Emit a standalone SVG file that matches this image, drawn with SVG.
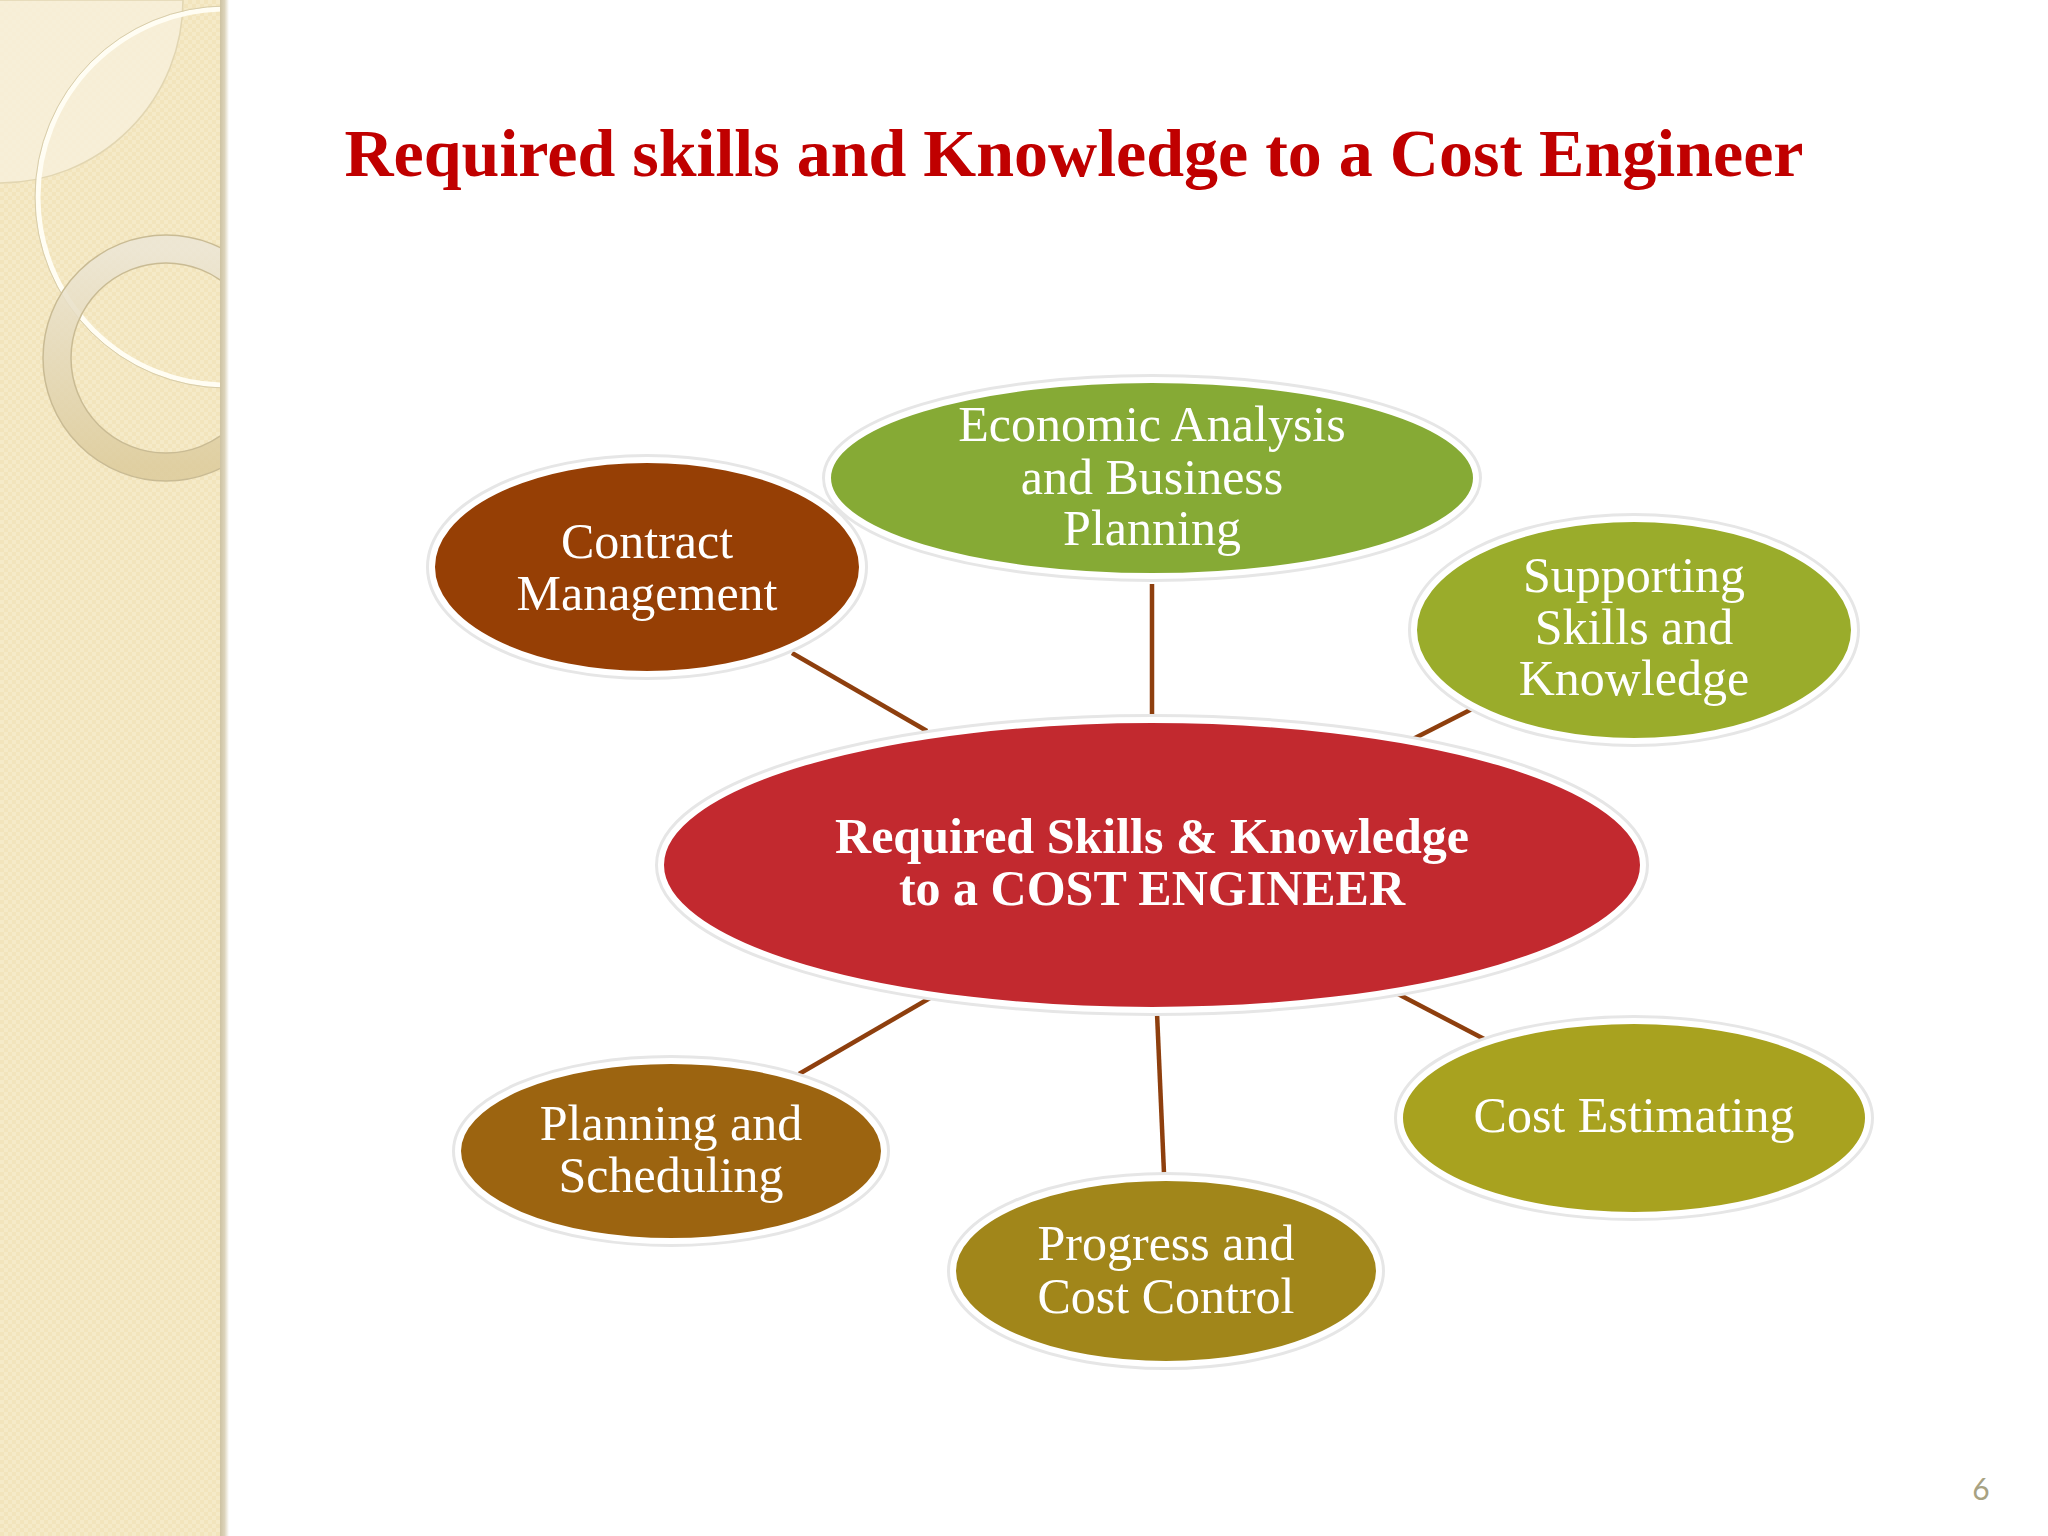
<svg xmlns="http://www.w3.org/2000/svg" width="2048" height="1536" viewBox="0 0 2048 1536">
<defs>
<pattern id="chk" width="8" height="8" patternUnits="userSpaceOnUse">
<rect width="8" height="8" fill="#F2E4BC"/>
<rect width="4" height="4" fill="#F5EAC8"/>
<rect x="4" y="4" width="4" height="4" fill="#F5EAC8"/>
</pattern>
<linearGradient id="edge" x1="0" y1="0" x2="1" y2="0">
<stop offset="0" stop-color="#CDC2A2"/>
<stop offset="0.5" stop-color="#DCD3BA"/>
<stop offset="1" stop-color="#FFFFFF"/>
</linearGradient>
<linearGradient id="ringg" x1="0" y1="0" x2="0" y2="1">
<stop offset="0" stop-color="#ECE6D6"/>
<stop offset="1" stop-color="#DCCB9C"/>
</linearGradient>
<clipPath id="stripclip"><rect x="0" y="0" width="220" height="1536"/></clipPath>
<style>
.node ellipse.halo{fill:none;stroke:#E6E6E6;stroke-width:12}
.node ellipse.body{stroke:#FFFFFF;stroke-width:6}
.lbl{font-family:"Liberation Serif","Times New Roman",serif;font-size:50px;fill:#FFFFFF;text-anchor:middle}
.bold{font-weight:bold}
.conn line{stroke:#8E3F0E;stroke-width:4.5;stroke-linecap:butt}
</style>
</defs>
<rect width="2048" height="1536" fill="#FFFFFF"/>
<g id="strip">
<rect x="0" y="0" width="220" height="1536" fill="url(#chk)"/>
<g clip-path="url(#stripclip)">
<path d="M0,0 L183,0 A183,183 0 0 1 0,183 Z" fill="#F7F0DC" opacity="0.8"/>
<path d="M0,0 L183,0 A183,183 0 0 1 0,183" fill="none" stroke="#E2D6B2" stroke-width="1.5"/>
<circle cx="226" cy="197" r="188" fill="none" stroke="#FFFDF3" stroke-width="5"/>
<circle cx="226" cy="197" r="191" fill="none" stroke="#D8CDAA" stroke-width="1"/>
<circle cx="166" cy="358" r="109" fill="none" stroke="url(#ringg)" stroke-width="28" opacity="0.85"/>
<circle cx="166" cy="358" r="123" fill="none" stroke="#C9BB94" stroke-width="1.5"/>
<circle cx="166" cy="358" r="95" fill="none" stroke="#C9BB94" stroke-width="1.5"/>
</g>
<rect x="220" y="0" width="9" height="1536" fill="url(#edge)"/>
</g>
<text id="title" x="1074" y="176" font-family="Liberation Serif, Times New Roman, serif" font-size="68" font-weight="bold" fill="#C00000" text-anchor="middle">Required skills and Knowledge to a Cost Engineer</text>
<g id="connectors" class="conn">
<line x1="792" y1="653" x2="927" y2="731"/>
<line x1="1152" y1="584" x2="1152" y2="716"/>
<line x1="1472" y1="709" x2="1413" y2="739"/>
<line x1="799" y1="1074" x2="930" y2="998"/>
<line x1="1157" y1="1013" x2="1164" y2="1173"/>
<line x1="1398" y1="994" x2="1488" y2="1041"/>
</g>
<g id="center" class="node">
<ellipse class="halo" cx="1152" cy="865" rx="491" ry="145"/>
<ellipse class="body" cx="1152" cy="865" rx="491" ry="145" fill="#C2292F"/>
<text class="lbl bold" x="1152" y="853">Required Skills &amp; Knowledge</text>
<text class="lbl bold" x="1152" y="905">to a COST ENGINEER</text>
</g>
<g id="contract" class="node">
<ellipse class="halo" cx="647" cy="567" rx="215" ry="107"/>
<ellipse class="body" cx="647" cy="567" rx="215" ry="107" fill="#963F05"/>
<text class="lbl" x="647" y="558">Contract</text>
<text class="lbl" x="647" y="610">Management</text>
</g>
<g id="economic" class="node">
<ellipse class="halo" cx="1152" cy="478" rx="324" ry="98"/>
<ellipse class="body" cx="1152" cy="478" rx="324" ry="98" fill="#86AA35"/>
<text class="lbl" x="1152" y="441">Economic Analysis</text>
<text class="lbl" x="1152" y="494">and Business</text>
<text class="lbl" x="1152" y="545">Planning</text>
</g>
<g id="supporting" class="node">
<ellipse class="halo" cx="1634" cy="630" rx="220" ry="111"/>
<ellipse class="body" cx="1634" cy="630" rx="220" ry="111" fill="#9AAC2B"/>
<text class="lbl" x="1634" y="592">Supporting</text>
<text class="lbl" x="1634" y="644">Skills and</text>
<text class="lbl" x="1634" y="695">Knowledge</text>
</g>
<g id="planning" class="node">
<ellipse class="halo" cx="671" cy="1151" rx="213" ry="90"/>
<ellipse class="body" cx="671" cy="1151" rx="213" ry="90" fill="#9C6410"/>
<text class="lbl" x="671" y="1140">Planning and</text>
<text class="lbl" x="671" y="1192">Scheduling</text>
</g>
<g id="progress" class="node">
<ellipse class="halo" cx="1166" cy="1271" rx="213" ry="93"/>
<ellipse class="body" cx="1166" cy="1271" rx="213" ry="93" fill="#A1861A"/>
<text class="lbl" x="1166" y="1260">Progress and</text>
<text class="lbl" x="1166" y="1313">Cost Control</text>
</g>
<g id="estimating" class="node">
<ellipse class="halo" cx="1634" cy="1118" rx="234" ry="97"/>
<ellipse class="body" cx="1634" cy="1118" rx="234" ry="97" fill="#A8A21F"/>
<text class="lbl" x="1634" y="1132">Cost Estimating</text>
</g>
<text id="pagenum" x="1981" y="1500" font-family="Lato, Open Sans, sans-serif" font-size="30" fill="#A8A282" text-anchor="middle">6</text>
</svg>
